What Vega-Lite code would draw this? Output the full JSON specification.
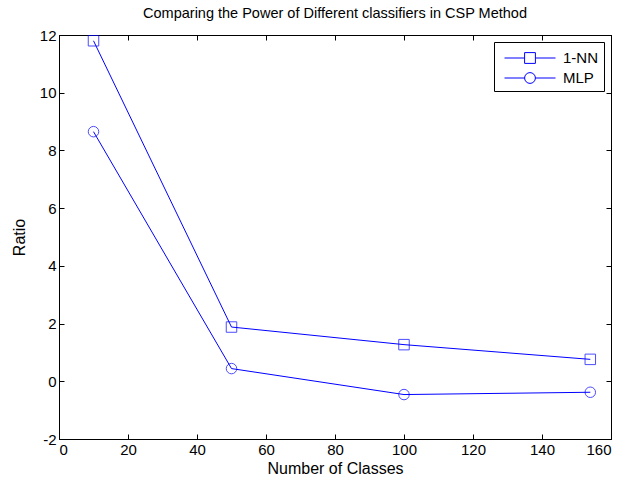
{
  "$schema": "https://vega.github.io/schema/vega-lite/v6.json",
  "autosize": "none",
  "width": 552,
  "height": 404,
  "padding": {"left": 59, "top": 35, "right": 23, "bottom": 44},
  "background": "white",
  "title": {"text": "Comparing the Power of Different classifiers in CSP Method", "font": "Liberation Sans", "fontSize": 14.5, "fontWeight": "normal", "color": "black", "offset": 7},
  "config": {
    "view": {"stroke": "black", "strokeWidth": 1},
    "axis": {"labelFont": "Liberation Sans", "titleFont": "Liberation Sans", "labelFontSize": 15, "titleFontSize": 16, "titleFontWeight": "normal", "labelColor": "black", "titleColor": "black", "domainColor": "black", "tickColor": "black", "grid": false, "tickSize": -5, "labelExpr": "'' + datum.value"}
  },
  "data": {"values": [
    {"classes": 10, "ratio": 11.8, "series": "1-NN"},
    {"classes": 50, "ratio": 1.88, "series": "1-NN"},
    {"classes": 100, "ratio": 1.27, "series": "1-NN"},
    {"classes": 154, "ratio": 0.76, "series": "1-NN"},
    {"classes": 10, "ratio": 8.65, "series": "MLP"},
    {"classes": 50, "ratio": 0.44, "series": "MLP"},
    {"classes": 100, "ratio": -0.46, "series": "MLP"},
    {"classes": 154, "ratio": -0.38, "series": "MLP"}
  ]},
  "layer": [
    {
      "mark": {"type": "line", "color": "#0000ff", "strokeWidth": 1},
      "encoding": {
        "x": {"field": "classes", "type": "quantitative", "scale": {"domain": [0, 160], "nice": false, "zero": false}, "axis": {"orient": "bottom", "title": "Number of Classes", "values": [0,20,40,60,80,100,120,140,160], "labelPadding": 8, "titlePadding": 3}},
        "y": {"field": "ratio", "type": "quantitative", "scale": {"domain": [-2, 12], "nice": false, "zero": false}, "axis": {"orient": "left", "title": "Ratio", "values": [-2,0,2,4,6,8,10,12], "labelPadding": 8, "titlePadding": 12}},
        "detail": {"field": "series"}
      }
    },
    {
      "mark": {"type": "point", "filled": false, "color": "#0000ff", "strokeWidth": 1, "size": 110},
      "encoding": {
        "x": {"field": "classes", "type": "quantitative", "axis": {"orient": "top", "title": null, "labels": false, "values": [0,20,40,60,80,100,120,140,160]}},
        "y": {"field": "ratio", "type": "quantitative", "axis": {"orient": "right", "title": null, "labels": false, "values": [-2,0,2,4,6,8,10,12]}},
        "shape": {"field": "series", "type": "nominal", "scale": {"domain": ["1-NN", "MLP"], "range": ["square", "circle"]}, "legend": null}
      }
    },
    {
      "mark": {"type": "point", "filled": false, "color": "#0000ff", "strokeWidth": 1, "size": 10, "opacity": 0},
      "encoding": {
        "x": {"field": "classes", "type": "quantitative", "axis": null},
        "y": {"field": "ratio", "type": "quantitative", "axis": null},
        "shape": {"field": "series", "type": "nominal", "scale": {"domain": ["1-NN", "MLP"], "range": ["M-2.5,0H-0.53M0.53,0H2.5M-0.53,-0.53H0.53V0.53H-0.53Z", "M-2.5,0H-0.53M0.53,0H2.5M0.53,0A0.53,0.53 0 1 1 -0.53,0A0.53,0.53 0 1 1 0.53,0"]},
          "legend": {"title": null, "orient": "top-right", "offset": 7, "strokeColor": "black", "fillColor": "white", "padding": 5, "symbolSize": 416, "symbolOffset": 20, "symbolStrokeColor": "#0000ff", "symbolFillColor": "transparent", "symbolStrokeWidth": 1, "symbolOpacity": 1, "labelFont": "Liberation Sans", "labelFontSize": 15, "labelColor": "black", "rowPadding": 1, "labelOffset": 22}
        }
      }
    }
  ],
  "resolve": {"axis": {"x": "independent", "y": "independent"}, "scale": {"shape": "independent"}}
}
